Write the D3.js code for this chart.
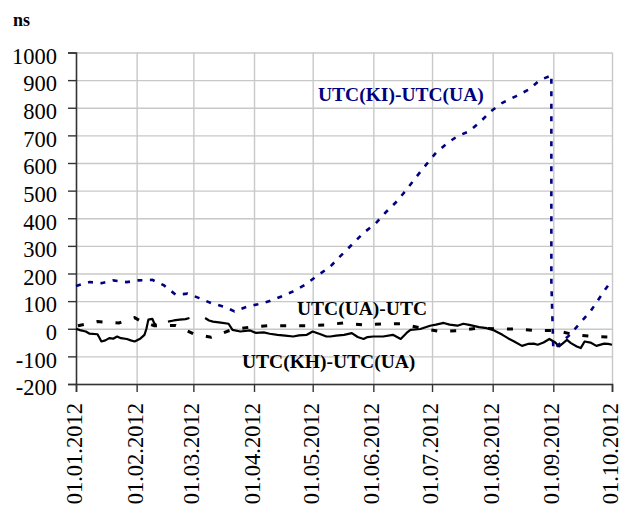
<!DOCTYPE html>
<html>
<head>
<meta charset="utf-8">
<script src="https://cdn.jsdelivr.net/npm/d3@7"></script>
<style>
  body { margin: 0; background: #fff; }
  svg { display: block; }
</style>
</head>
<body>
<div id="chart"></div>
<script>
/* ---------- data ---------- */
const yTicks = [-200, -100, 0, 100, 200, 300, 400, 500, 600, 700, 800, 900, 1000];
const xTickLabels = ["01.01.2012", "01.02.2012", "01.03.2012", "01.04.2012", "01.05.2012",
                     "01.06.2012", "01.07.2012", "01.08.2012", "01.09.2012", "01.10.2012"];
const unitLabel = "ns";
const seriesNames = ["UTC(KI)-UTC(UA)", "UTC(UA)-UTC", "UTC(KH)-UTC(UA)"];

// UTC(KI)-UTC(UA)
const kiSeries = [
  ["01.01.2012", 155], ["08.01.2012", 169], ["14.01.2012", 165], ["20.01.2012", 175],
  ["27.01.2012", 169], ["02.02.2012", 175], ["09.02.2012", 177], ["15.02.2012", 157],
  ["21.02.2012", 123], ["27.02.2012", 127], ["04.03.2012", 111], ["10.03.2012", 93],
  ["17.03.2012", 79],  ["22.03.2012", 63],  ["28.03.2012", 79],  ["03.04.2012", 89],
  ["09.04.2012", 100], ["15.04.2012", 117], ["21.04.2012", 135], ["27.04.2012", 159],
  ["03.05.2012", 190], ["10.05.2012", 225], ["15.05.2012", 262], ["21.05.2012", 304],
  ["27.05.2012", 347], ["02.06.2012", 380], ["07.06.2012", 419], ["13.06.2012", 461],
  ["18.06.2012", 504], ["23.06.2012", 550], ["28.06.2012", 594], ["03.07.2012", 637],
  ["09.07.2012", 673], ["14.07.2012", 697], ["20.07.2012", 715], ["26.07.2012", 751],
  ["31.07.2012", 787], ["06.08.2012", 818], ["13.08.2012", 842], ["20.08.2012", 868],
  ["25.08.2012", 900], ["30.08.2012", 914], ["31.08.2012", 920], ["31.08.2012", 170],
  ["01.09.2012", -75], ["09.09.2012", -25], ["14.09.2012", 15],  ["20.09.2012", 63],
  ["24.09.2012", 105], ["28.09.2012", 147], ["01.10.2012", 175]
];

// UTC(UA)-UTC
const uaSeries = [
  ["02.01.2012", 11],  ["12.01.2012", 26],  ["23.01.2012", 21],  ["31.01.2012", 40],
  ["03.02.2012", 28],  ["10.02.2012", 11],  ["21.02.2012", 12],  ["01.03.2012", -18],
  ["10.03.2012", -31], ["20.03.2012", -5],  ["30.03.2012", 6],   ["08.04.2012", 11],
  ["18.04.2012", 11],  ["28.04.2012", 11],  ["07.05.2012", 14],  ["17.05.2012", 21],
  ["27.05.2012", 14],  ["05.06.2012", 17],  ["15.06.2012", 18],  ["25.06.2012", 3],
  ["05.07.2012", -10], ["15.07.2012", -7],  ["25.07.2012", 3],   ["04.08.2012", -1],
  ["13.08.2012", -1],  ["23.08.2012", -6],  ["02.09.2012", -6],  ["12.09.2012", -22],
  ["21.09.2012", -28], ["01.10.2012", -30]
];

// UTC(KH)-UTC(UA), null = no data
const khSeries = [
  ["01.01.2012", 0],   ["03.01.2012", -5],  ["06.01.2012", -10], ["08.01.2012", -18],
  ["12.01.2012", -20], ["14.01.2012", -46], ["16.01.2012", -42], ["18.01.2012", -34],
  ["20.01.2012", -36], ["22.01.2012", -28], ["24.01.2012", -34], ["27.01.2012", -37],
  ["29.01.2012", -42], ["31.01.2012", -46], ["03.02.2012", -35], ["05.02.2012", -22],
  ["06.02.2012", 0],   ["07.02.2012", 33],  ["09.02.2012", 36],  ["10.02.2012", 20],
  ["11.02.2012", 14],  ["13.02.2012", null],["17.02.2012", 26],  ["20.02.2012", 30],
  ["23.02.2012", 33],  ["26.02.2012", 35],  ["28.02.2012", 39],  ["02.03.2012", null],
  ["07.03.2012", 39],  ["09.03.2012", 30],  ["11.03.2012", 26],  ["15.03.2012", 22],
  ["19.03.2012", 18],  ["21.03.2012", -4],  ["25.03.2012", -10], ["30.03.2012", -6],
  ["02.04.2012", -15], ["06.04.2012", -13], ["09.04.2012", -18], ["13.04.2012", -22],
  ["17.04.2012", -25], ["21.04.2012", -28], ["24.04.2012", -24], ["28.04.2012", -22],
  ["01.05.2012", -10], ["05.05.2012", -20], ["08.05.2012", -28], ["10.05.2012", -28],
  ["13.05.2012", -25], ["17.05.2012", -22], ["21.05.2012", -16], ["24.05.2012", -30],
  ["27.05.2012", -37], ["29.05.2012", -30], ["01.06.2012", -28], ["06.06.2012", -28],
  ["11.06.2012", -22], ["15.06.2012", -37], ["18.06.2012", -15], ["20.06.2012", -4],
  ["25.06.2012", -1],  ["30.06.2012", 11],  ["03.07.2012", 15],  ["07.07.2012", 21],
  ["10.07.2012", 15],  ["14.07.2012", 11],  ["17.07.2012", 18],  ["20.07.2012", 14],
  ["25.07.2012", 6],   ["29.07.2012", 2],   ["01.08.2012", -4],  ["06.08.2012", -22],
  ["09.08.2012", -35], ["12.08.2012", -46], ["16.08.2012", -62], ["19.08.2012", -55],
  ["22.08.2012", -54], ["24.08.2012", -58], ["27.08.2012", -50], ["30.08.2012", -37],
  ["02.09.2012", -50], ["04.09.2012", -64], ["08.09.2012", -40], ["10.09.2012", -52],
  ["13.09.2012", -64], ["15.09.2012", -70], ["17.09.2012", -46], ["20.09.2012", -50],
  ["23.09.2012", -62], ["27.09.2012", -54], ["29.09.2012", -55], ["01.10.2012", -58]
];

/* ---------- chart ---------- */
const W = 620, H = 507;
const M = { top: 52.5, right: 8, bottom: 123, left: 76 };
const FONT = "'Times New Roman', 'Liberation Serif', serif";
const parseDate = d3.timeParse("%d.%m.%Y");

const svg = d3.select("#chart").append("svg")
  .attr("width", W).attr("height", H);

const xDates = xTickLabels.map(parseDate);
const x = d3.scaleTime()
  .domain(d3.extent(xDates))
  .range([M.left, W - M.right]);

const y = d3.scaleLinear()
  .domain(d3.extent(yTicks))
  .range([H - M.bottom, M.top]);

// grid
svg.append("g")
  .attr("class", "grid")
  .attr("transform", `translate(${M.left},0)`)
  .call(d3.axisLeft(y).tickValues(yTicks).tickSize(-(W - M.left - M.right)).tickFormat(""))
  .call(g => g.select(".domain").remove())
  .call(g => g.selectAll("line").attr("stroke", "#c8c8c8").attr("stroke-width", 1.4));

svg.append("g")
  .attr("class", "grid")
  .attr("transform", `translate(0,${H - M.bottom})`)
  .call(d3.axisBottom(x).tickValues(xDates.slice(1)).tickSize(-(H - M.top - M.bottom)).tickFormat(""))
  .call(g => g.select(".domain").remove())
  .call(g => g.selectAll("line").attr("stroke", "#c8c8c8").attr("stroke-width", 1.4));

// axes
const yAxis = svg.append("g")
  .attr("transform", `translate(${M.left},0)`)
  .call(d3.axisLeft(y).tickValues(yTicks).tickSizeOuter(0).tickSize(8).tickPadding(11).tickFormat(d => String(d)));

const xAxis = svg.append("g")
  .attr("transform", `translate(0,${H - M.bottom})`)
  .call(d3.axisBottom(x).tickValues(xDates).tickSizeOuter(0).tickSize(8).tickFormat((d, i) => xTickLabels[i]));

[yAxis, xAxis].forEach(g => {
  g.attr("font-family", FONT).attr("font-size", 22.5);
  g.select(".domain").attr("stroke", "#333").attr("stroke-width", 1.6);
  g.selectAll(".tick line").attr("stroke", "#333").attr("stroke-width", 1.4);
  g.selectAll("text").attr("fill", "#000");
});
yAxis.selectAll("text").attr("dy", "0.48em");
xAxis.selectAll("text")
  .attr("transform", "rotate(-90)")
  .attr("text-anchor", "end")
  .attr("x", -19)
  .attr("y", 0)
  .attr("dy", "0.25em");

// lines
const line = d3.line()
  .defined(d => d[1] != null)
  .x(d => x(parseDate(d[0])))
  .y(d => y(d[1]));

svg.append("path")
  .datum(khSeries)
  .attr("fill", "none")
  .attr("stroke", "#000")
  .attr("stroke-width", 2.2)
  .attr("stroke-linejoin", "round")
  .attr("d", line);

svg.append("path")
  .datum(uaSeries)
  .attr("fill", "none")
  .attr("stroke", "#000")
  .attr("stroke-width", 3)
  .attr("stroke-dasharray", "6,13")
  .attr("d", line);

svg.append("path")
  .datum(kiSeries)
  .attr("fill", "none")
  .attr("stroke", "#000080")
  .attr("stroke-width", 2.6)
  .attr("stroke-dasharray", "5,7.5")
  .attr("d", line);

// texts
svg.append("text")
  .attr("x", 13).attr("y", 26)
  .attr("font-family", FONT).attr("font-weight", "bold").attr("font-size", 18)
  .text(unitLabel);

const labelPos = [
  { x: 318, y: 101, fill: "#000080" },
  { x: 297, y: 315, fill: "#000" },
  { x: 242, y: 367.5, fill: "#000" }
];
svg.selectAll(".series-label")
  .data(seriesNames)
  .join("text")
  .attr("class", "series-label")
  .attr("x", (d, i) => labelPos[i].x)
  .attr("y", (d, i) => labelPos[i].y)
  .attr("fill", (d, i) => labelPos[i].fill)
  .attr("font-family", FONT).attr("font-weight", "bold").attr("font-size", 19.5)
  .text(d => d);
</script>
</body>
</html>
